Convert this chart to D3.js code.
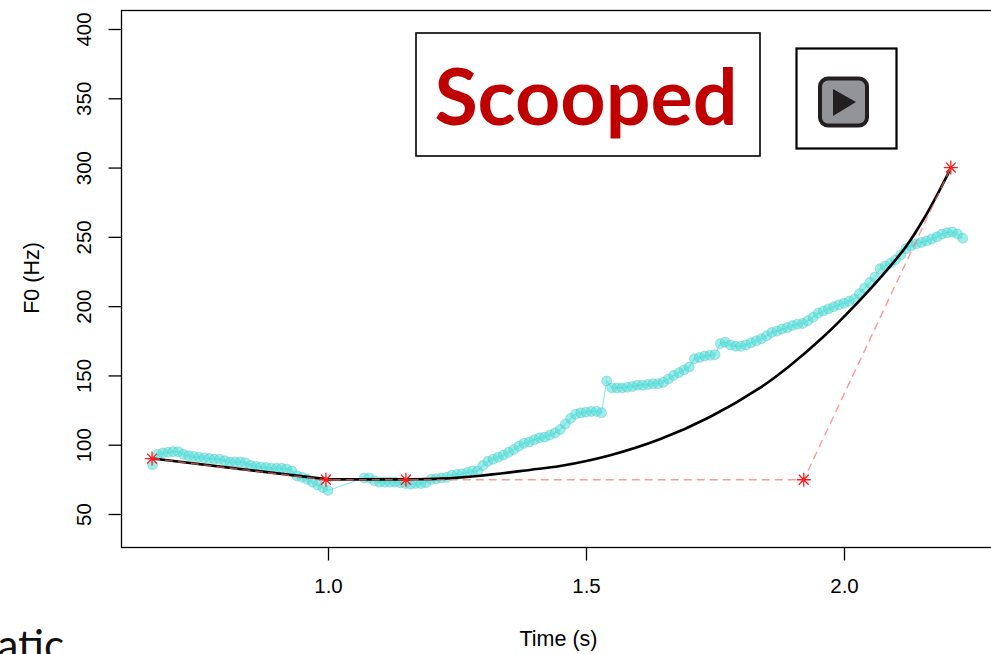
<!DOCTYPE html>
<html><head><meta charset="utf-8">
<script src="https://cdn.jsdelivr.net/npm/d3@7"></script>
<style>html,body{margin:0;padding:0;background:#fff;overflow:hidden}svg{display:block}</style></head>
<body><svg id="c" width="991" height="654"></svg>
<script>
const xTicks=[1.0,1.5,2.0];
const yTicks=[50,100,150,200,250,300,350,400];
const xLabel="Time (s)", yLabel="F0 (Hz)", stampText="Scooped", cutText="atic";
const contourT=[0.66,0.67,0.68,0.69,0.70,0.71,0.72,0.73,0.74,0.75,0.76,0.77,0.78,0.79,0.80,0.81,0.82,0.83,0.84,0.85,0.86,0.87,0.88,0.89,0.90,0.91,0.92,0.93,0.94,0.95,0.96,0.97,0.98,0.99,1.00,
1.07,1.08,1.09,1.10,1.11,1.12,1.13,1.14,1.15,1.16,1.17,1.18,1.19,1.20,1.21,1.22,1.23,1.24,1.25,1.26,1.27,1.28,1.29,1.30,1.31,1.32,1.33,1.34,1.35,1.36,1.37,1.38,1.39,1.40,1.41,1.42,1.43,1.44,1.45,1.46,1.47,1.48,1.49,1.50,1.51,1.52,1.53,
1.54,1.55,1.56,1.57,1.58,1.59,1.60,1.61,1.62,1.63,1.64,1.65,1.66,1.67,1.68,1.69,1.70,1.71,1.72,1.73,1.74,1.75,1.76,1.77,1.78,1.79,1.80,1.81,1.82,1.83,1.84,1.85,1.86,1.87,1.88,1.89,1.90,1.91,1.92,1.93,1.94,1.95,1.96,1.97,1.98,1.99,2.00,2.01,2.02,2.03,2.04,2.05,2.06,2.07,2.08,2.09,2.10,2.11,2.12,2.13,2.14,2.15,2.16,2.17,2.18,2.19,2.20,2.21,2.22,2.23];
const contourF=[85.5,93,94,94.5,95,95,93,92,91.5,91,90.5,90,89.5,89.5,88.5,87.5,87.5,87.5,87,85,84.5,84,83.5,83,83,83,82.5,81,77.5,76.5,75,73,71,69,67,
76,76,74,73,73,73,73,72.5,72,71.5,72,72,72.5,75,75.5,76,76.5,78,78.5,79,80,81,81,85,88,89.5,91,92.5,94.5,96.5,99,101,102,103.5,105,105.5,107,108.5,111,115,119,122,123,123.5,124,124,123,
146,141,141,141,141.5,142,143,143,143.5,144,144,145,147.5,150,152,154,156,162,163,164,164.5,165,173,174,172,171,171,172,173.5,175,176.5,178.5,181,182,183.5,184.5,186,187,187.5,189.5,192,195,196.5,198,199.5,201,202,203.5,205,209,213,217,221,227,229,231,233.5,237,241.5,243.5,245,246,247,248.5,250,252,253,253.5,252,249];
const curveT=[0.66,1.0,1.08,1.15,1.22,1.295,1.391,1.45,1.547,1.643,1.74,1.837,1.895,1.959,2.025,2.089,2.122,2.153,2.18,2.205];
const curveF=[90,75,75,75,75.5,77.6,81.8,84.6,92.4,103.9,120,141,157,177.5,202,228.5,244,262,280,298];
const targetT=[0.659,0.996,1.151,1.922,2.207];
const targetF=[90,74.7,74.7,74.7,300];

const svg=d3.select("#c");
const x=d3.scaleLinear().domain([1,2]).range([328,844]);
const y=d3.scaleLinear().domain([50,400]).range([514,29]);
const font="'Liberation Sans',Arial,sans-serif";

const contour=contourT.map((t,i)=>[t,contourF[i]]);
const ln=d3.line().x(d=>x(d[0])).y(d=>y(d[1]));
svg.append("path").attr("d",ln(contour)).attr("fill","none").attr("stroke","#8fecec").attr("stroke-width",1.2);
svg.append("g").selectAll("circle").data(contour).join("circle")
 .attr("cx",d=>x(d[0])).attr("cy",d=>y(d[1])).attr("r",5)
 .attr("fill","rgba(80,222,216,0.55)").attr("stroke","rgba(60,175,175,0.3)").attr("stroke-width",1);

const bend=curveT.map((t,i)=>[t,curveF[i]]);
svg.append("path").attr("d",ln(bend.slice(0,2))).attr("fill","none").attr("stroke","#000").attr("stroke-width",2.6);
svg.append("path").attr("d",d3.line().x(d=>x(d[0])).y(d=>y(d[1])).curve(d3.curveCatmullRom)(bend.slice(1)))
 .attr("fill","none").attr("stroke","#000").attr("stroke-width",2.6);

const targets=targetT.map((t,i)=>[t,targetF[i]]);
svg.append("path").attr("d",ln(targets)).attr("fill","none").attr("stroke","rgba(255,110,110,0.7)").attr("stroke-width",1.4).attr("stroke-dasharray","8 5");
const star={draw(c,s){const r=Math.sqrt(s),k=r*Math.SQRT1_2;
 c.moveTo(-r,0);c.lineTo(r,0);c.moveTo(0,-r);c.lineTo(0,r);c.moveTo(-k,-k);c.lineTo(k,k);c.moveTo(-k,k);c.lineTo(k,-k);}};
svg.append("g").selectAll("path").data(targets).join("path")
 .attr("transform",d=>`translate(${x(d[0])},${y(d[1])})`)
 .attr("d",d3.symbol().type(star).size(49)).attr("fill","none").attr("stroke","#ff1a1a").attr("stroke-width",1.3);

svg.append("rect").attr("x",121.5).attr("y",10.5).attr("width",900).attr("height",537).attr("fill","none").attr("stroke","#000").attr("stroke-width",1.3);

const ax=svg.append("g").attr("transform","translate(0,547.5)")
 .call(d3.axisBottom(x).tickValues(xTicks).tickFormat(d3.format(".1f")).tickSize(13).tickPadding(18));
const ay=svg.append("g").attr("transform","translate(121.5,0)")
 .call(d3.axisLeft(y).tickValues(yTicks).tickSize(13));
[ax,ay].forEach(g=>{g.select(".domain").remove();g.selectAll("line").attr("stroke","#000").attr("stroke-width",1.3);
 g.selectAll("text").attr("font-family",font).attr("font-size",20.5).attr("fill","#000");});
ay.selectAll("text").attr("x",null).attr("y",null).attr("dy",null).attr("text-anchor","middle")
 .attr("transform","translate(-31,0) rotate(-90)");

svg.append("text").attr("x",558.5).attr("y",646).attr("text-anchor","middle").attr("font-family",font).attr("font-size",21.5).text(xLabel);
svg.append("text").attr("transform","translate(39,278) rotate(-90)").attr("text-anchor","middle").attr("font-family",font).attr("font-size",21.5).text(yLabel);

svg.append("rect").attr("x",416).attr("y",33).attr("width",344).attr("height",123).attr("fill","#fff").attr("stroke","#000").attr("stroke-width",1.6);
svg.append("text").attr("x",586).attr("y",125).attr("text-anchor","middle").attr("font-family","Lato,'Open Sans',sans-serif").attr("font-weight",700).attr("font-size",79).attr("fill","#c00000").text(stampText);
svg.append("rect").attr("x",796.5).attr("y",48.5).attr("width",100).attr("height",100).attr("fill","#fff").attr("stroke","#000").attr("stroke-width",2.2);
svg.append("rect").attr("x",820).attr("y",78.5).attr("width",47).attr("height",47).attr("rx",8).attr("fill","#929497").attr("stroke","#231f20").attr("stroke-width",4);
svg.append("path").attr("d","M833,89L833,116L856,102Z").attr("fill","#231f20");
svg.append("text").attr("x",64).attr("y",660).attr("text-anchor","end").attr("font-family","Lato,'Open Sans',sans-serif").attr("font-size",42).attr("fill","#111").text(cutText);
</script></body></html>
